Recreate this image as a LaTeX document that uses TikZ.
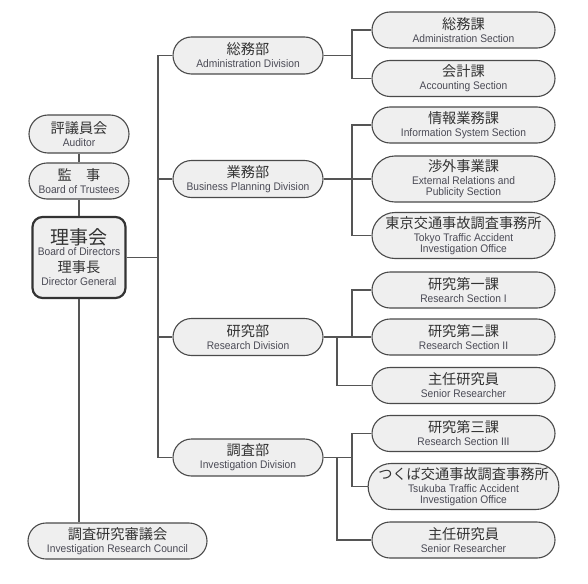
\documentclass[tikz,border=0pt]{standalone}
\usepackage{fontspec}
\setmainfont{Liberation Sans}[FakeStretch=0.93]
\newfontfamily\jpfont{Noto Sans CJK JP}
\usepackage{xcolor}
\definecolor{orgFill}{HTML}{EFEFEF}
\definecolor{orgLine}{HTML}{4A4A4A}
\definecolor{orgDark}{HTML}{333333}
\definecolor{orgText}{HTML}{333333}
\definecolor{orgSub}{HTML}{4A4A55}
\definecolor{orgLink}{HTML}{555555}
\usepackage{tikz}
\usetikzlibrary{shapes.misc,calc}
\newcommand{\jpname}[1]{{\jpfont\fontsize{14.2}{16}\selectfont\color{orgText}#1\rule[-4pt]{0pt}{4pt}}}

\begin{document}
\begin{tikzpicture}[x=1pt,y=-1pt,
  unit/.style={rounded rectangle,draw=orgLine,fill=orgFill,line width=1.1pt,align=center,inner sep=0pt,text=orgSub,font=\fontsize{11}{11}\selectfont},
  division/.style={unit,minimum width=150pt,minimum height=37pt},
  section/.style={unit,minimum width=183pt,minimum height=36pt},
  tallsection/.style={section,minimum height=46pt},
  link/.style={draw=orgLink,line width=1.2pt}]
  \path[use as bounding box] (0,0) rectangle (588,583);

  \node[unit,minimum width=100pt,minimum height=38pt] (hyogi) at (79,134) {\jpname{評議員会}\\Auditor};
  \node[unit,minimum width=100pt,minimum height=36pt] (kanji) at (79,181) {\jpname{監　事}\\Board of Trustees};
  \node[draw=orgDark,fill=orgFill,line width=2.2pt,rounded corners=10pt,minimum width=93pt,minimum height=81pt,align=center,inner sep=0pt,text=orgSub,font=\fontsize{11}{11}\selectfont] (riji) at (79,257.5) {{\jpfont\fontsize{19}{22}\selectfont\color{orgText}理事会}\\Board of Directors\\[4pt]\jpname{理事長}\\Director General};
  \node[unit,minimum width=179pt,minimum height=36pt] (council) at (117.5,541) {\jpname{調査研究審議会}\\Investigation Research Council};

  \node[division] (soumu) at (248,55.5) {\jpname{総務部}\\Administration Division};
  \node[division] (gyoumu) at (248,179) {\jpname{業務部}\\Business Planning Division};
  \node[division] (kenkyu) at (248,337) {\jpname{研究部}\\Research Division};
  \node[division] (chousa) at (248,457.5) {\jpname{調査部}\\Investigation Division};

  \node[section] (s11) at (463.5,30) {\jpname{総務課}\\Administration Section};
  \node[section] (s12) at (463.5,78.5) {\jpname{会計課}\\Accounting Section};
  \node[section] (s21) at (463.5,125) {\jpname{情報業務課}\\Information System Section};
  \node[tallsection] (s22) at (463.5,179) {\jpname{渉外事業課}\\External Relations and\\Publicity Section};
  \node[tallsection] (s23) at (463.5,235.5) {\jpname{東京交通事故調査事務所}\\Tokyo Traffic Accident\\Investigation Office};
  \node[section] (s31) at (463.5,290) {\jpname{研究第一課}\\Research Section I};
  \node[section] (s32) at (463.5,337) {\jpname{研究第二課}\\Research Section II};
  \node[section] (s33) at (463.5,385.5) {\jpname{主任研究員}\\Senior Researcher};
  \node[section] (s41) at (463.5,433.5) {\jpname{研究第三課}\\Research Section III};
  \node[tallsection] (s42) at (463.5,486.5) {\jpname{つくば交通事故調査事務所}\\Tsukuba Traffic Accident\\Investigation Office};
  \node[section] (s43) at (463.5,540) {\jpname{主任研究員}\\Senior Researcher};

  \coordinate (trunk) at (158,0);
  \coordinate (bar) at (352,0);
  \coordinate (bar2) at (337,0);

  \draw[link] (hyogi.south) -- (kanji.north);
  \draw[link] (kanji.south) -- (riji.north);
  \draw[link] (riji.south) -- (riji.south |- council.north);

  \draw[link] (riji.east) -- (riji.east -| trunk);
  \draw[link] (soumu.west) -| (trunk |- chousa.west) -- (chousa.west);
  \draw[link] (trunk |- gyoumu.west) -- (gyoumu.west);
  \draw[link] (trunk |- kenkyu.west) -- (kenkyu.west);

  \draw[link] (soumu.east) -- (soumu.east -| bar);
  \draw[link] (s11.west) -| (bar |- s12.west) -- (s12.west);

  \draw[link] (gyoumu.east) -- (s22.west);
  \draw[link] (s21.west) -| (bar |- s23.west) -- (s23.west);

  \draw[link] (kenkyu.east) -- (s32.west);
  \draw[link] (s31.west) -| (bar |- s32.west);
  \draw[link] (bar2 |- kenkyu.east) |- (s33.west);

  \draw[link] (chousa.east) -- (chousa.east -| bar);
  \draw[link] (s41.west) -| (bar |- s42.west) -- (s42.west);
  \draw[link] (bar2 |- chousa.east) |- (s43.west);
\end{tikzpicture}
\end{document}
